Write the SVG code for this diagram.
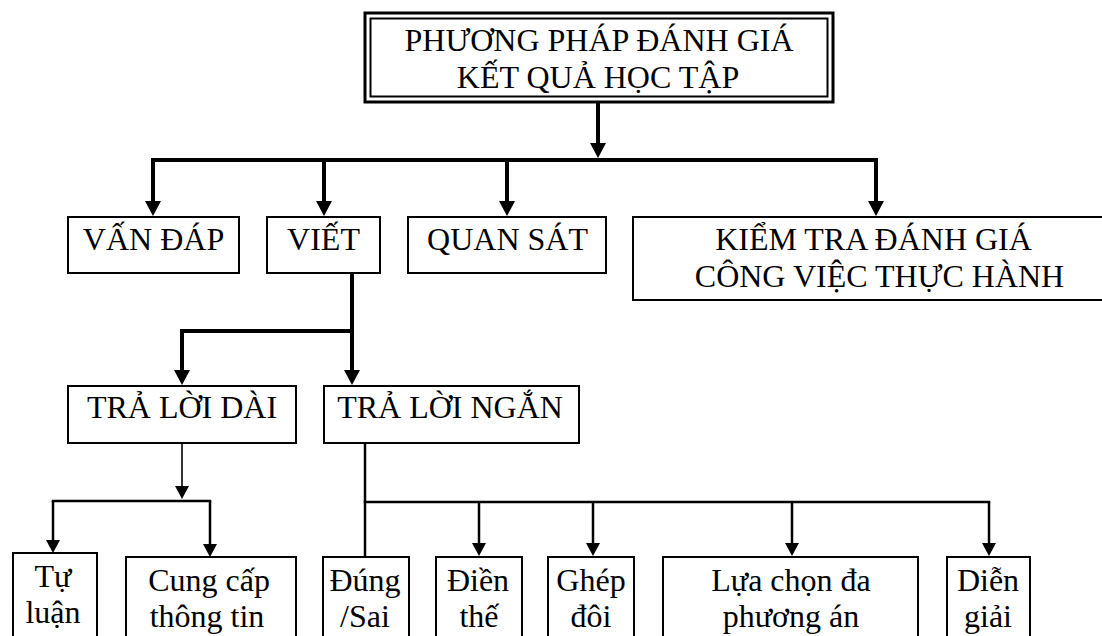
<svg xmlns="http://www.w3.org/2000/svg" width="1102" height="636" viewBox="0 0 1102 636">
<defs>
  <marker id="big" markerUnits="userSpaceOnUse" markerWidth="15" markerHeight="16" viewBox="0 0 15 16" refX="7" refY="8" orient="auto">
    <path d="M0,0 L15,8 L0,16 z" fill="#000"/>
  </marker>
  <marker id="small" markerUnits="userSpaceOnUse" markerWidth="13" markerHeight="14" viewBox="0 0 13 14" refX="5" refY="7" orient="auto">
    <path d="M0,0 L13,7 L0,14 z" fill="#000"/>
  </marker>
</defs>
<rect width="1102" height="636" fill="#fff"/>

<g id="connectors" fill="none" stroke="#000">
  <g stroke-width="4">
    <path d="M598,102 V150" marker-end="url(#big)"/>
    <path d="M153,160 H876" stroke-linecap="square"/>
    <path d="M153,160 V208" marker-end="url(#big)"/>
    <path d="M324,160 V208" marker-end="url(#big)"/>
    <path d="M507,160 V208" marker-end="url(#big)"/>
    <path d="M876,160 V208" marker-end="url(#big)"/>
    <path d="M352,275 V331 H182" stroke-linecap="square"/>
    <path d="M182,331 V377" marker-end="url(#big)"/>
    <path d="M352,331 V377" marker-end="url(#big)"/>
  </g>
  <path d="M182,443 V491" stroke-width="1.6" marker-end="url(#small)"/>
  <g stroke-width="2.5">
    <path d="M53,501 H210" stroke-linecap="square"/>
    <path d="M53,501 V545" marker-end="url(#small)"/>
    <path d="M210,501 V549" marker-end="url(#small)"/>
    <path d="M365,443 V557"/>
    <path d="M365,502 H989" stroke-linecap="square"/>
    <path d="M479,502 V548" marker-end="url(#small)"/>
    <path d="M593,502 V548" marker-end="url(#small)"/>
    <path d="M792,502 V548" marker-end="url(#small)"/>
    <path d="M989,502 V548" marker-end="url(#small)"/>
  </g>
</g>

<g id="root">
  <rect x="365" y="13" width="468" height="89" fill="#fff" stroke="#000" stroke-width="3"/>
  <rect x="370.5" y="18.5" width="457" height="78" fill="none" stroke="#000" stroke-width="2"/>
  <text x="599" y="51" font-family="Liberation Serif" font-size="32" text-anchor="middle">PHƯƠNG PHÁP ĐÁNH GIÁ</text>
  <text x="598" y="88" font-family="Liberation Serif" font-size="32" text-anchor="middle">KẾT QUẢ HỌC TẬP</text>
</g>

<g id="van-dap">
  <rect x="68" y="217" width="171" height="56" fill="#fff" stroke="#000" stroke-width="2"/>
  <text x="153.5" y="250" font-family="Liberation Serif" font-size="32" text-anchor="middle">VẤN ĐÁP</text>
</g>
<g id="viet">
  <rect x="267" y="217" width="113" height="56" fill="#fff" stroke="#000" stroke-width="2"/>
  <text x="323.5" y="250" font-family="Liberation Serif" font-size="32" text-anchor="middle">VIẾT</text>
</g>
<g id="quan-sat">
  <rect x="408" y="217" width="198" height="56" fill="#fff" stroke="#000" stroke-width="2"/>
  <text x="507.5" y="250" font-family="Liberation Serif" font-size="32" text-anchor="middle">QUAN SÁT</text>
</g>
<g id="kiem-tra">
  <rect x="633" y="217" width="480" height="83" fill="#fff" stroke="#000" stroke-width="2"/>
  <text x="873.5" y="250" font-family="Liberation Serif" font-size="32" text-anchor="middle">KIỂM TRA ĐÁNH GIÁ</text>
  <text x="879.5" y="287" font-family="Liberation Serif" font-size="32" text-anchor="middle">CÔNG VIỆC THỰC HÀNH</text>
</g>

<g id="tra-loi-dai">
  <rect x="68" y="386" width="228" height="57" fill="#fff" stroke="#000" stroke-width="2"/>
  <text x="182" y="418" font-family="Liberation Serif" font-size="32" text-anchor="middle">TRẢ LỜI DÀI</text>
</g>
<g id="tra-loi-ngan">
  <rect x="324" y="386" width="255" height="57" fill="#fff" stroke="#000" stroke-width="2"/>
  <text x="450" y="418" font-family="Liberation Serif" font-size="32" text-anchor="middle">TRẢ LỜI NGẮN</text>
</g>

<g id="tu-luan">
  <rect x="13" y="553" width="84" height="100" fill="#fff" stroke="#000" stroke-width="2"/>
  <text x="53" y="587" font-family="Liberation Serif" font-size="32" text-anchor="middle">Tự</text>
  <text x="53" y="623" font-family="Liberation Serif" font-size="32" text-anchor="middle">luận</text>
</g>
<g id="cung-cap">
  <rect x="126" y="557" width="170" height="100" fill="#fff" stroke="#000" stroke-width="2"/>
  <text x="209" y="591" font-family="Liberation Serif" font-size="32" text-anchor="middle">Cung cấp</text>
  <text x="207" y="627" font-family="Liberation Serif" font-size="32" text-anchor="middle">thông tin</text>
</g>
<g id="dung-sai">
  <rect x="323" y="557" width="86" height="100" fill="#fff" stroke="#000" stroke-width="2"/>
  <text x="365" y="591" font-family="Liberation Serif" font-size="32" text-anchor="middle">Đúng</text>
  <text x="365" y="627" font-family="Liberation Serif" font-size="32" text-anchor="middle">/Sai</text>
</g>
<g id="dien-the">
  <rect x="436" y="557" width="86" height="100" fill="#fff" stroke="#000" stroke-width="2"/>
  <text x="478" y="591" font-family="Liberation Serif" font-size="32" text-anchor="middle">Điền</text>
  <text x="479" y="627" font-family="Liberation Serif" font-size="32" text-anchor="middle">thế</text>
</g>
<g id="ghep-doi">
  <rect x="548" y="557" width="86" height="100" fill="#fff" stroke="#000" stroke-width="2"/>
  <text x="591" y="591" font-family="Liberation Serif" font-size="32" text-anchor="middle">Ghép</text>
  <text x="591" y="627" font-family="Liberation Serif" font-size="32" text-anchor="middle">đôi</text>
</g>
<g id="lua-chon">
  <rect x="663" y="557" width="255" height="100" fill="#fff" stroke="#000" stroke-width="2"/>
  <text x="791" y="591" font-family="Liberation Serif" font-size="32" text-anchor="middle">Lựa chọn đa</text>
  <text x="791" y="627" font-family="Liberation Serif" font-size="32" text-anchor="middle">phương án</text>
</g>
<g id="dien-giai">
  <rect x="947" y="557" width="83" height="100" fill="#fff" stroke="#000" stroke-width="2"/>
  <text x="988" y="591" font-family="Liberation Serif" font-size="32" text-anchor="middle">Diễn</text>
  <text x="988" y="627" font-family="Liberation Serif" font-size="32" text-anchor="middle">giải</text>
</g>
</svg>
